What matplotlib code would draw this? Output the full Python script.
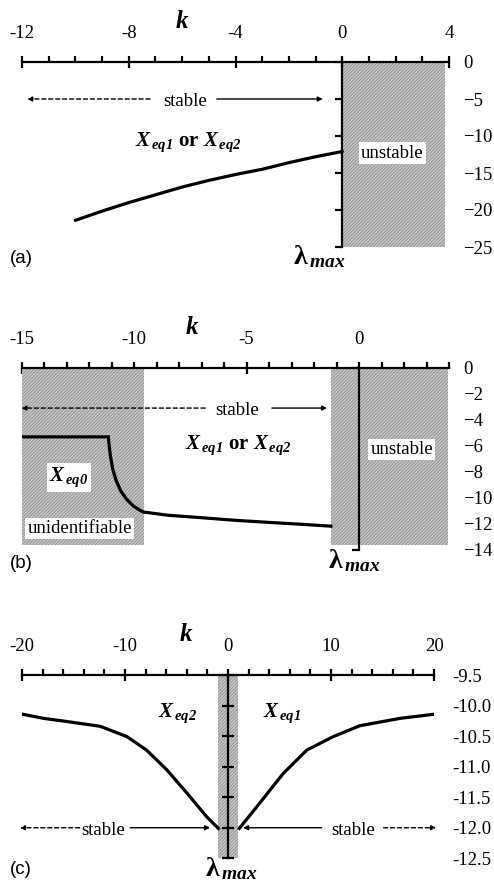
"""Stability of the equilibria versus feedback gain k, three cases (a)-(c).

Each panel has the k axis along the top, the lambda_max axis at k = 0 and its
tick labels at the right. Hatched gray blocks are unstable / unidentifiable.
"""

import matplotlib
matplotlib.use("Agg")
import matplotlib.pyplot as plt  # noqa: E402
from matplotlib.patches import Rectangle  # noqa: E402
from matplotlib.ticker import FormatStrFormatter  # noqa: E402

plt.rcParams["font.family"] = "Liberation Serif"
plt.rcParams["mathtext.fontset"] = "custom"
plt.rcParams["mathtext.rm"] = "Liberation Serif"
plt.rcParams["mathtext.it"] = "Liberation Serif:italic"
plt.rcParams["mathtext.bf"] = "Liberation Serif:bold"
plt.rcParams["mathtext.bfit"] = "Liberation Serif:italic:bold"
plt.rcParams["hatch.linewidth"] = 0.6

# (a) lambda_max of Xeq1/Xeq2 for k < 0
k_a = [-10, -9, -8, -7, -6, -5, -4, -3, -2, -1, 0]
lam_a = [-21.4, -20.15, -19.0, -17.95, -16.9, -16.0, -15.2, -14.5, -13.6, -12.8, -12.1]

# (b) Xeq0 plateau, drop, then Xeq1/Xeq2 branch
k_b = [-15, -11.14, -11.1, -11.04, -10.95, -10.8, -10.59, -10.32, -10.03, -9.73, -9.59,
       -8.5, -7.0, -5.5, -4.0, -2.6, -1.25]
lam_b = [-5.31, -5.31, -6.08, -6.85, -7.74, -8.64, -9.46, -10.12, -10.62, -10.95, -11.08,
         -11.33, -11.52, -11.72, -11.88, -12.02, -12.17]

# (c) Xeq2 (k < 0) and Xeq1 (k > 0) branches
k_c2 = [-20, -17.9, -15.7, -12.4, -9.8, -7.9, -5.95, -4.0, -2.07, -0.94]
lam_c2 = [-10.14, -10.21, -10.26, -10.34, -10.51, -10.73, -11.05, -11.43, -11.82, -12.01]
k_c1 = [1.1, 2.78, 5.37, 7.64, 10.2, 12.8, 16.7, 20.1]
lam_c1 = [-12.01, -11.66, -11.11, -10.73, -10.51, -10.33, -10.21, -10.14]

# axis ticks per panel
xmajor_a = [-12, -8, -4, 0, 4]
xminor_a = [-11, -10, -9, -7, -6, -5, -3, -2, -1, 1, 2, 3]
yticks_a = [0, -5, -10, -15, -20, -25]
xmajor_b = [-15, -10, -5, 0]
xminor_b = [k for k in range(-14, 5) if k not in (-10, -5, 0)]
yticks_b = [0, -2, -4, -6, -8, -10, -12, -14]
xmajor_c = [-20, -10, 0, 10, 20]
xminor_c = [k for k in range(-18, 20, 2) if k % 10]
yticks_c = [-9.5, -10.0, -10.5, -11.0, -11.5, -12.0, -12.5]

W, H = 494, 884
FS = 13.5
HATCH = dict(facecolor="#c6c6c6", edgecolor="#8e8e8e", hatch="//////////", linewidth=0)
BOX = dict(boxstyle="square,pad=0.12", facecolor="white", edgecolor="none")
XLAB = r"$\mathbfit{X}_{\,\mathbfit{%s}}$"
LAM = r"$\mathbf{\lambda}_{\,\mathbfit{max}}$"

fig = plt.figure(figsize=(W / 100, H / 100), dpi=100)


def panel(left, right, top, bottom, xlim, ylim):
    ax = fig.add_axes([left / W, 1 - bottom / H, (right - left) / W, (bottom - top) / H])
    ax.set_xlim(xlim)
    ax.set_ylim(ylim)
    ax.patch.set_visible(False)
    for s in ("bottom", "right"):
        ax.spines[s].set_visible(False)
    ax.spines["top"].set_linewidth(1.6)
    ax.spines["left"].set_linewidth(1.6)
    ax.spines["left"].set_position(("data", 0))
    ax.xaxis.set_ticks_position("top")
    ax.yaxis.set_ticks_position("left")
    ax.tick_params(axis="y", labelleft=False, labelright=True, labelsize=FS)
    ax.tick_params(axis="x", labelsize=FS)
    return ax


def kaxis(ax, major, minor):
    ax.set_xticks(major)
    ax.set_xticks(minor, minor=True)
    ax.set_xticklabels([str(v) for v in major])
    ax.tick_params(axis="x", which="major", direction="inout", length=9, width=1.6, pad=10)
    ax.tick_params(axis="x", which="minor", direction="out", length=4.5, width=1.6)


def arrow(ax, tail, tip, y, dashed=False):
    ax.annotate("", xy=(tip, y), xytext=(tail, y), annotation_clip=False,
                arrowprops=dict(arrowstyle="-|>", lw=1.0, color="black",
                                linestyle=(0, (3, 2)) if dashed else "-",
                                mutation_scale=7, shrinkA=0, shrinkB=0))


# ---- (a) ----
ax = panel(22, 449, 62, 247, (-12, 4), (-25, 0))
kaxis(ax, xmajor_a, xminor_a)
ax.set_yticks(yticks_a)
ax.tick_params(axis="y", direction="out", length=5, width=1.6, pad=5.5)
ax.add_patch(Rectangle((0, -25), 3.84, 25, zorder=1, **HATCH))
ax.plot(k_a, lam_a, color="black", lw=2.3, solid_capstyle="round", zorder=3)
arrow(ax, -7.2, -11.8, -5, dashed=True)
arrow(ax, -4.7, -0.73, -5)
ax.text(-5.9, -5.4, "stable", ha="center", va="center", fontsize=FS)
ax.text(-5.78, -10.9, XLAB % "eq1" + " or " + XLAB % "eq2", ha="center", va="center",
        fontsize=15, fontweight="bold")
ax.text(1.87, -12.3, "unstable", ha="center", va="center", fontsize=FS, bbox=BOX, zorder=4)

fig.text(182 / W, 1 - 22 / H, r"$\mathbfit{k}$", fontsize=18, ha="center", va="center")
fig.text(10 / W, 1 - 258 / H, "(a)", family="Liberation Sans", fontsize=13.5, va="center")
fig.text(293 / W, 1 - 264 / H, LAM, fontsize=20, va="baseline")

# ---- (b) ----
ax = panel(21.5, 449, 367.7, 550, (-15, 4), (-14, 0))
ax.set_axisbelow(True)  # gray blocks hide the lower half of the crossing ticks
kaxis(ax, xmajor_b, xminor_b)
ax.set_yticks(yticks_b)
ax.tick_params(axis="y", direction="out", length=5, width=1.6, pad=5.5)
ax.add_patch(Rectangle((-15, -13.6), 5.44, 13.6, zorder=1, **HATCH))
ax.add_patch(Rectangle((-1.24, -13.6), 5.19, 13.6, zorder=1, **HATCH))
ax.plot(k_b, lam_b, color="black", lw=2.3, solid_joinstyle="miter", zorder=3)
arrow(ax, -6.84, -15.0, -3.1, dashed=True)
arrow(ax, -3.87, -1.42, -3.1)
ax.text(-5.42, -3.25, "stable", ha="center", va="center", fontsize=FS)
ax.text(-5.36, -5.95, XLAB % "eq1" + " or " + XLAB % "eq2", ha="center", va="center",
        fontsize=15, fontweight="bold")
ax.text(1.9, -6.3, "unstable", ha="center", va="center", fontsize=FS, bbox=BOX, zorder=4)
ax.text(-12.9, -8.43, XLAB % "eq0", ha="center", va="center", fontsize=15, bbox=BOX, zorder=4)
ax.text(-12.42, -12.35, "unidentifiable", ha="center", va="center", fontsize=FS,
        bbox=BOX, zorder=4)

fig.text(192 / W, 1 - 328 / H, r"$\mathbfit{k}$", fontsize=18, ha="center", va="center")
fig.text(10 / W, 1 - 563 / H, "(b)", family="Liberation Sans", fontsize=13.5, va="center")
fig.text(328 / W, 1 - 568 / H, LAM, fontsize=20, va="baseline")

# ---- (c) ----
ax = panel(22, 434, 675, 858.3, (-20, 20), (-12.5, -9.5))
kaxis(ax, xmajor_c, xminor_c)
ax.set_yticks(yticks_c)
ax.yaxis.set_major_formatter(FormatStrFormatter("%.1f"))
ax.tick_params(axis="y", direction="inout", length=8, width=1.6, pad=9)
ax.add_patch(Rectangle((-0.97, -12.5), 1.94, 3.0, zorder=1, **HATCH))
ax.plot(k_c2, lam_c2, color="black", lw=2.3, zorder=3)
ax.plot(k_c1, lam_c1, color="black", lw=2.3, zorder=3)
arrow(ax, -14.4, -20.2, -12.0, dashed=True)
arrow(ax, -9.5, -1.75, -12.0)
arrow(ax, 9.1, 1.46, -12.0)
arrow(ax, 15.1, 20.2, -12.0, dashed=True)
ax.text(-12.1, -12.05, "stable", ha="center", va="center", fontsize=FS)
ax.text(12.1, -12.05, "stable", ha="center", va="center", fontsize=FS)
ax.text(-4.85, -10.13, XLAB % "eq2", ha="center", va="center", fontsize=15)
ax.text(5.2, -10.13, XLAB % "eq1", ha="center", va="center", fontsize=15)

fig.text(186 / W, 1 - 635 / H, r"$\mathbfit{k}$", fontsize=18, ha="center", va="center")
fig.text(10 / W, 1 - 870 / H, "(c)", family="Liberation Sans", fontsize=13.5, va="center")
fig.text(205 / W, 1 - 876 / H, LAM, fontsize=20, va="baseline")

fig.savefig("out.png", dpi=100)
